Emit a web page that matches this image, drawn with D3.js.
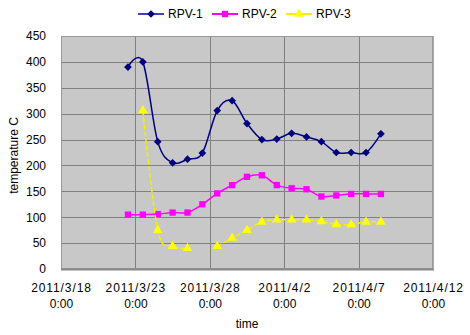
<!DOCTYPE html>
<html><head><meta charset="utf-8">
<script src="https://cdn.jsdelivr.net/npm/d3@7"></script>
<style>
body{margin:0;background:#fff;}
svg text{font-family:"Liberation Sans",Arial,sans-serif;font-size:12px;fill:#000;}
</style></head>
<body>
<svg id="c" width="470" height="335"></svg>
<script>
const dates = ["2011-03-22T12:00","2011-03-23T12:00","2011-03-24T12:00","2011-03-25T12:00","2011-03-26T12:00","2011-03-27T12:00","2011-03-28T12:00","2011-03-29T12:00","2011-03-30T12:00","2011-03-31T12:00","2011-04-01T12:00","2011-04-02T12:00","2011-04-03T12:00","2011-04-04T12:00","2011-04-05T12:00","2011-04-06T12:00","2011-04-07T12:00","2011-04-08T12:00"];
const rpv1 = [390,400,246,205,212,224,306,325,281,250,251,262,255,246,225,225,225,261];
const rpv2 = [105,105,106,109,109,125,146,162,178,181,162,156,154,140,142,145,145,145];
const rpv3 = [null,306,75,44,40,null,44,60,75,91,95,95,95,92,86,86,91,91];
const seriesNames = ["RPV-1","RPV-2","RPV-3"];
const tickDates = ["2011-03-18T00:00","2011-03-23T00:00","2011-03-28T00:00","2011-04-02T00:00","2011-04-07T00:00","2011-04-12T00:00"];
const tickLabels = [["2011/3/18","0:00"],["2011/3/23","0:00"],["2011/3/28","0:00"],["2011/4/2","0:00"],["2011/4/7","0:00"],["2011/4/12","0:00"]];
const yTicks = [0,50,100,150,200,250,300,350,400,450];

const parse = d3.timeParse("%Y-%m-%dT%H:%M");
const svg = d3.select("#c");
const L=61, R=433, T=36, B=269;
const x = d3.scaleTime().domain([parse(tickDates[0]), parse(tickDates[5])]).range([L,R]);
const y = d3.scaleLinear().domain([0,450]).range([B,T]);

svg.append("rect").attr("x",L).attr("y",T).attr("width",R-L).attr("height",B-T).attr("fill","#c8c8c8");
// grid
svg.append("g").selectAll("line").data(yTicks.slice(1)).join("line")
  .attr("x1",L).attr("x2",R).attr("y1",d=>Math.round(y(d))+0.5).attr("y2",d=>Math.round(y(d))+0.5)
  .attr("stroke","#808080").attr("stroke-width",1);
svg.append("g").selectAll("line").data(tickDates.slice(1,5)).join("line")
  .attr("y1",T).attr("y2",B).attr("x1",d=>Math.round(x(parse(d)))+0.5).attr("x2",d=>Math.round(x(parse(d)))+0.5)
  .attr("stroke","#808080").attr("stroke-width",1);
// border
svg.append("rect").attr("x",L+0.5).attr("y",T+0.5).attr("width",R-L-1).attr("height",B-T-1).attr("fill","none").attr("stroke","#999").attr("stroke-width",1);
svg.append("line").attr("x1",L).attr("x2",R+1).attr("y1",B+0.5).attr("y2",B+0.5).attr("stroke","#888").attr("stroke-width",2);
svg.append("line").attr("x1",R+0.5).attr("x2",R+0.5).attr("y1",T).attr("y2",B).attr("stroke","#aaa").attr("stroke-width",1);

// y axis
const ya = svg.append("g").attr("transform",`translate(${L},0)`).call(d3.axisLeft(y).tickValues(yTicks).tickSize(0).tickPadding(15));
ya.select(".domain").remove();
ya.selectAll("text").style("font-family","Liberation Sans").style("font-size","12px");
// x axis
const xa = svg.append("g").attr("transform",`translate(0,${B})`).call(d3.axisBottom(x).tickValues(tickDates.map(parse)).tickSize(0).tickFormat(""));
xa.select(".domain").remove();
xa.selectAll(".tick").each(function(d,i){
  const t=d3.select(this).append("text").attr("text-anchor","middle").attr("fill","#000")
    .style("font-family","Liberation Sans").style("font-size","12px");
  t.append("tspan").attr("x",0).attr("y",23).style("letter-spacing","0.9px").text(tickLabels[i][0]);
  t.append("tspan").attr("x",0).attr("y",39).text(tickLabels[i][1]);
});
svg.append("text").attr("x",(L+R)/2).attr("y",328).attr("text-anchor","middle").text("time");
svg.append("text").attr("transform",`translate(18,${(T+B)/2+3}) rotate(-90)`).attr("text-anchor","middle").text("temperature C");

const colors = ["#000080","#ff00ff","#ffff00"];
const lineColors = ["#000080","#ff00ff","#f0f000"];
const data = [rpv1,rpv2,rpv3];
const line = d3.line().defined(d=>d.v!=null).x(d=>x(d.t)).y(d=>y(d.v)).curve(d3.curveCardinal.tension(0));
const sym = [d3.symbolSquare, d3.symbolSquare, d3.symbolTriangle];
const symSize = [30,40,40];
const rot = [45,0,0];
data.forEach((vals,i)=>{
  const pts = vals.map((v,j)=>({t:parse(dates[j]),v:v}));
  svg.append("path").datum(pts).attr("d",line).attr("fill","none").attr("stroke",lineColors[i]).attr("stroke-width",1.5)
    .attr("stroke-dasharray", i===2?"5,2":null);
  svg.append("g").selectAll("path").data(pts.filter(d=>d.v!=null)).join("path")
    .attr("transform",d=>`translate(${x(d.t)},${y(d.v)}) rotate(${rot[i]})`)
    .attr("d",d3.symbol().type(sym[i]).size(symSize[i])).attr("fill",colors[i]);
});
// legend
const lg = svg.append("g");
const lx=[138,212,286];
seriesNames.forEach((n,i)=>{
  lg.append("line").attr("x1",lx[i]).attr("x2",lx[i]+26).attr("y1",14).attr("y2",14).attr("stroke",i===0?"#4040c0":lineColors[i]).attr("stroke-width",2);
  lg.append("path").attr("transform",`translate(${lx[i]+13},14) rotate(${rot[i]})`).attr("d",d3.symbol().type(sym[i]).size(symSize[i])).attr("fill",colors[i]);
  lg.append("text").attr("x",lx[i]+30).attr("y",18).text(n);
});
</script>
</body></html>
